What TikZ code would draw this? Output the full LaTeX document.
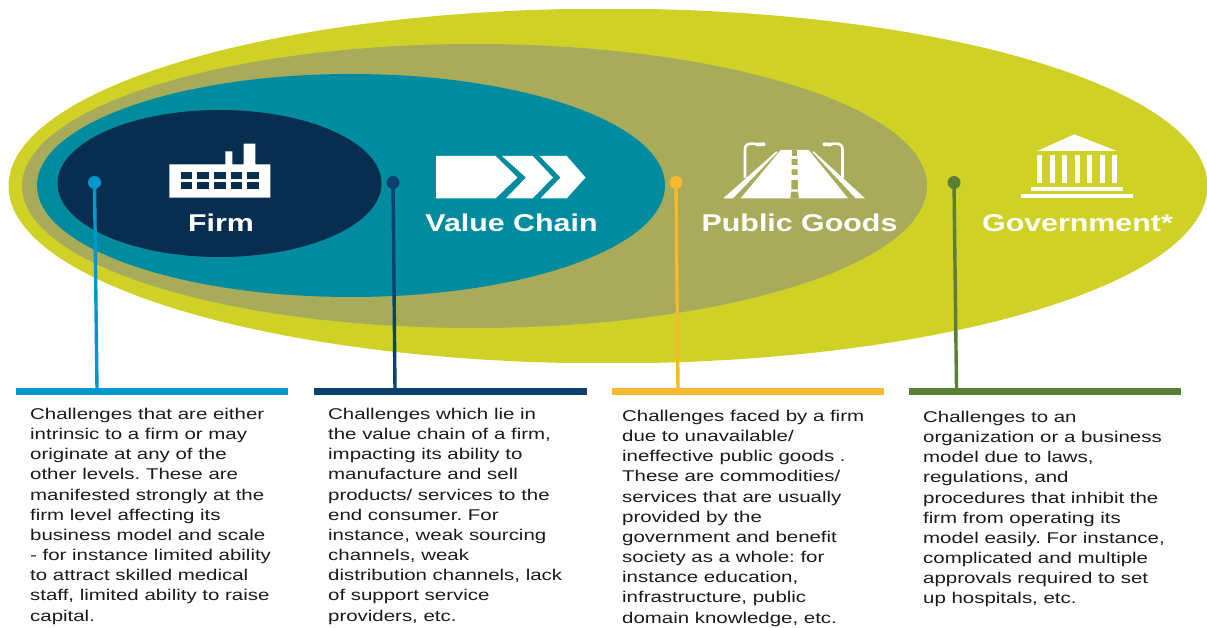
\documentclass[tikz,border=0pt]{standalone}
\usepackage{fontspec}
\setmainfont{Liberation Sans}
\frenchspacing
\newfontfamily\bodyfont[FakeStretch=1.31]{Liberation Sans}
\newfontfamily\headfont[FakeStretch=1.25]{Liberation Sans Bold}
\definecolor{lime}{HTML}{D0D126}
\definecolor{olivec}{HTML}{A8AB5A}
\definecolor{tealc}{HTML}{008C9E}
\definecolor{navyc}{HTML}{082E4F}
\definecolor{firmc}{HTML}{0097CF}
\definecolor{chainc}{HTML}{0B4070}
\definecolor{goodsc}{HTML}{F5B82E}
\definecolor{govc}{HTML}{5A8038}
\definecolor{textc}{HTML}{1A1A1A}
\tikzset{
  x=1pt,y=-1pt,
  headlabel/.style={text=white,inner sep=0pt,font=\headfont\frenchspacing\fontsize{24.3}{24.3}\selectfont,anchor=base},
  body/.style={text=textc,inner sep=0pt,anchor=north west,align=left,font=\bodyfont\frenchspacing\fontsize{15.6}{20.15}\selectfont},
  bar/.style={fill=#1,draw=none,inner sep=0pt,minimum height=7pt,minimum width=272.5pt,rectangle},
  dot/.style={fill=#1,draw=none,inner sep=0pt,minimum size=13pt,circle},
  leader/.style={draw=#1,line width=3.4pt},
}
\begin{document}
\begin{tikzpicture}
\useasboundingbox (0,0) rectangle (1207,628);
\begin{scope}
\clip (0,10) rectangle (1207,362);
\fill[lime] (608,186) ellipse [x radius=599.5,y radius=177.4];
\end{scope}
\fill[olivec] (474.5,186) ellipse [x radius=452.5,y radius=142];
\fill[tealc] (351,185.5) ellipse [x radius=314,y radius=111.5];
\fill[navyc] (219.5,183.5) ellipse [x radius=162,y radius=73.5];
% bars
\node[bar=firmc] (firmbar) at (152,391.5) {};
\node[bar=chainc] (chainbar) at (450.7,391.5) {};
\node[bar=goodsc] (goodsbar) at (747.8,391.5) {};
\node[bar=govc] (govbar) at (1045.2,391.5) {};
% dots
\node[dot=firmc] (firmdot) at (94.5,182.5) {};
\node[dot=chainc] (chaindot) at (393,182.5) {};
\node[dot=goodsc] (goodsdot) at (676,182.5) {};
\node[dot=govc] (govdot) at (954,182.5) {};
\coordinate (firmfoot) at (97,389);
\coordinate (chainfoot) at (395,389);
\coordinate (goodsfoot) at (678,389);
\coordinate (govfoot) at (956.5,389);
\draw[leader=firmc] (firmdot.center) -- (firmfoot);
\draw[leader=chainc] (chaindot.center) -- (chainfoot);
\draw[leader=goodsc] (goodsdot.center) -- (goodsfoot);
\draw[leader=govc] (govdot.center) -- (govfoot);
% factory
\fill[white] (169.3,197.7) -- (169.3,164.3) -- (225.3,164.3) -- (225.3,151.3) -- (232.3,151.3) -- (232.3,164.3) -- (243.7,164.3) -- (243.7,143.7) -- (255.3,143.7) -- (255.3,164.3) -- (270.3,164.3) -- (270.3,197.7) -- cycle;
\foreach \wx in {180.7,197.3,214,230.7,247.3}{
  \fill[navyc] (\wx,172) rectangle ++(11.7,6.7);
  \fill[navyc] (\wx,182.3) rectangle ++(11.7,6.7);
}
% chevrons
\fill[white] (436,156) -- (495.6,156) -- (517.4,177.5) -- (495.6,198.3) -- (436,198.3) -- cycle;
\fill[white] (502,156) -- (532.7,156) -- (553,177.5) -- (532.7,198.3) -- (506,198.3) -- (526,177.5) -- cycle;
\fill[white] (539.6,156) -- (566.8,156) -- (585.5,177.5) -- (566.8,198.3) -- (540.5,198.3) -- (560.6,177.5) -- cycle;
% road
\fill[white] (723.3,198.3) -- (776,151.7) -- (778,151.7) -- (733,198.3) -- cycle;
\fill[white] (740.7,198.3) -- (780.7,150) -- (808.7,150) -- (848,198.3) -- cycle;
\fill[white] (855.7,198.3) -- (812,151.7) -- (814,151.7) -- (865,198.3) -- cycle;
\foreach \ya/\yb/\wa/\wb in {150/156/2.8/2.8,159/165/2.9/3,169.3/175/3/3.1,180/189.5/3.1/3.3,191.7/198.3/3.4/4.4}{
  \fill[olivec] (794.6-\wa,\ya) -- (794.6+\wa,\ya) -- (794.6+\wb,\yb) -- (794.6-\wb,\yb) -- cycle;
}
\draw[white,line width=2.6pt] (745,178) -- (745,149) .. controls (745,145) and (748,143.6) .. (752,143.6) .. controls (756,143.6) and (760,145.5) .. (765,144);
\draw[white,line width=3.6pt,line cap=round] (757,144.6) -- (764,144.2);
\draw[white,line width=2.6pt] (842.5,178) -- (842.5,149) .. controls (842.5,145) and (839.5,143.6) .. (835.5,143.6) .. controls (831.5,143.6) and (827.5,145.5) .. (823,144);
\draw[white,line width=3.6pt,line cap=round] (830.5,144.6) -- (824,144.2);
% temple
\fill[white] (1037.3,151) -- (1074.3,134.3) -- (1116.7,151) -- cycle;
\foreach \cx in {1039.3,1052,1064.7,1077,1089.7,1102,1114.7}{
  \fill[white] (\cx-2.5,155) rectangle (\cx+2.5,182.7);
}
\fill[white] (1031,186.7) rectangle (1122.7,190.7);
\fill[white] (1021,194) rectangle (1132.7,198);
% labels
\node[headlabel] (firmlabel) at (221,231.5) {Firm};
\node[headlabel] (chainlabel) at (511.5,231.5) {Value Chain};
\node[headlabel] (goodslabel) at (799.5,231.5) {Public Goods};
\node[headlabel] (govlabel) at (1077.5,231.5) {Government*};
% bodies
\node[body] (firmtext) at (30,408) {Challenges that are either\\intrinsic to a firm or may\\originate at any of the\\other levels. These are\\manifested strongly at the\\firm level affecting its\\business model and scale\\- for instance limited ability\\to attract skilled medical\\staff, limited ability to raise\\capital.};
\node[body] (chaintext) at (328,408) {Challenges which lie in\\the value chain of a firm,\\impacting its ability to\\manufacture and sell\\products/ services to the\\end consumer. For\\instance, weak sourcing\\channels, weak\\distribution channels, lack\\of support service\\providers, etc.};
\node[body] (goodstext) at (622,410) {Challenges faced by a firm\\due to unavailable/\\ineffective public goods .\\These are commodities/\\services that are usually\\provided by the\\government and benefit\\society as a whole: for\\instance education,\\infrastructure, public\\domain knowledge, etc.};
\node[body] (govtext) at (923,411) {Challenges to an\\organization or a business\\model due to laws,\\regulations, and\\procedures that inhibit the\\firm from operating its\\model easily. For instance,\\complicated and multiple\\approvals required to set\\up hospitals, etc.};
\end{tikzpicture}
\end{document}
